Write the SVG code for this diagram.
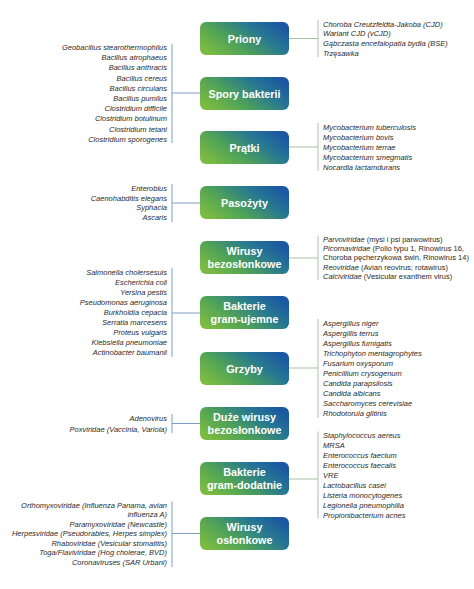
<svg xmlns="http://www.w3.org/2000/svg" width="474" height="589" viewBox="0 0 474 589">
<defs>
<linearGradient id="g" x1="0" y1="0.75" x2="1" y2="0.25">
<stop offset="0" stop-color="#7cbb41"/>
<stop offset="0.35" stop-color="#4fa257"/>
<stop offset="0.7" stop-color="#277892"/>
<stop offset="1" stop-color="#1b57a2"/>
</linearGradient>
<style>
.box{fill:url(#g)}
.lbl{font-family:"Liberation Sans",Arial,sans-serif;font-weight:bold;font-size:10.8px;fill:#fff;text-anchor:middle}
.r{font-family:"Liberation Sans",Arial,sans-serif;font-style:italic;font-size:7.5px;fill:#2a2a2a}
.l{font-family:"Liberation Sans",Arial,sans-serif;font-style:italic;font-size:7.5px;fill:#2a2a2a;text-anchor:end}
.n{font-style:normal}
.cr{stroke:#a9c2a4;stroke-width:1;fill:none}
.cl{stroke:#7e9dc2;stroke-width:1;fill:none}
</style>
</defs>
<rect width="474" height="589" fill="#fff"/>
<g id="connectors">
<path class="cr" d="M289 38.5H318M318 20V57"/>
<path class="cl" d="M200 93H172M172 44V143"/>
<path class="cr" d="M289 147H318M318 123V171"/>
<path class="cl" d="M200 203H172M172 184V222"/>
<path class="cr" d="M289 258H318M318 235.5V280"/>
<path class="cl" d="M200 313H172M172 268V357"/>
<path class="cr" d="M289 368H318M318 319V418"/>
<path class="cl" d="M200 423.5H172M172 414V433"/>
<path class="cr" d="M289 479H318M318 431.5V518.5"/>
<path class="cl" d="M200 533.5H172M172 501.5V567"/>
</g>
<g id="priony">
<rect class="box" x="200" y="22" width="89" height="33" rx="6"/>
<text class="lbl" x="244.5" y="42.5">Priony</text>
<text class="r" x="323" y="26.8">Choroba Creutzfeldta-Jakoba (CJD)</text>
<text class="r" x="323" y="36.4">Wariant CJD (vCJD)</text>
<text class="r" x="323" y="46">Gąbczasta encefalopatia bydła (BSE)</text>
<text class="r" x="323" y="55.6">Trzęsawka</text>
</g>
<g id="spory">
<rect class="box" x="200" y="77" width="89" height="33" rx="6"/>
<text class="lbl" x="244.5" y="97.5">Spory bakterii</text>
<text class="l" x="167" y="50">Geobacillus stearothermophilus</text>
<text class="l" x="167" y="60.2">Bacillus atrophaeus</text>
<text class="l" x="167" y="70.4">Bacillus anthracis</text>
<text class="l" x="167" y="80.6">Bacillus cereus</text>
<text class="l" x="167" y="90.8">Bacillus circulans</text>
<text class="l" x="167" y="101">Bacillus pumilus</text>
<text class="l" x="167" y="111.2">Clostridium difficile</text>
<text class="l" x="167" y="121.4">Clostridium botulinum</text>
<text class="l" x="167" y="131.6">Clostridium tetani</text>
<text class="l" x="167" y="141.8">Clostridium sporogenes</text>
</g>
<g id="pratki">
<rect class="box" x="200" y="131" width="89" height="33" rx="6"/>
<text class="lbl" x="244.5" y="151.5">Prątki</text>
<text class="r" x="323" y="130">Mycobacterium tuberculosis</text>
<text class="r" x="323" y="140">Mycobacterium bovis</text>
<text class="r" x="323" y="150">Mycobacterium terrae</text>
<text class="r" x="323" y="160">Mycobacterium smegmatis</text>
<text class="r" x="323" y="170">Nocardia lactamdurans</text>
</g>
<g id="pasozyty">
<rect class="box" x="200" y="186" width="89" height="33" rx="6"/>
<text class="lbl" x="244.5" y="206.5">Pasożyty</text>
<text class="l" x="167" y="191">Enterobius</text>
<text class="l" x="167" y="200.7">Caenohabditis elegans</text>
<text class="l" x="167" y="210.4">Syphacia</text>
<text class="l" x="167" y="220.1">Ascaris</text>
</g>
<g id="wirusy-bezoslonkowe">
<rect class="box" x="200" y="241" width="89" height="33" rx="6"/>
<text class="lbl" x="244.5" y="255">Wirusy</text>
<text class="lbl" x="244.5" y="267.5">bezosłonkowe</text>
<text class="r" x="323" y="241.7"><tspan>Parvoviridae</tspan><tspan class="n"> (mysi i psi parwowirus)</tspan></text>
<text class="r" x="323" y="251"><tspan>Picornaviridae</tspan><tspan class="n"> (Polio typu 1, Rinowirus 16,</tspan></text>
<text class="r n" x="323" y="260.2">Choroba pęcherzykowa świń, Rinowirus 14)</text>
<text class="r" x="323" y="269.5"><tspan>Reoviridae</tspan><tspan class="n"> (Avian reovirus; rotawirus)</tspan></text>
<text class="r" x="323" y="278.7"><tspan>Calciviridae</tspan><tspan class="n"> (Vesicular exanthem virus)</tspan></text>
</g>
<g id="gram-ujemne">
<rect class="box" x="200" y="296" width="89" height="33" rx="6"/>
<text class="lbl" x="244.5" y="310">Bakterie</text>
<text class="lbl" x="244.5" y="322.5">gram-ujemne</text>
<text class="l" x="167" y="275.4">Salmonella cholersesuis</text>
<text class="l" x="167" y="285.4">Escherichia coli</text>
<text class="l" x="167" y="295.4">Yersina pestis</text>
<text class="l" x="167" y="305.4">Pseudomonas aeruginosa</text>
<text class="l" x="167" y="315.4">Burkholdia cepacia</text>
<text class="l" x="167" y="325.4">Serratia marcesens</text>
<text class="l" x="167" y="335.4">Proteus vulgaris</text>
<text class="l" x="167" y="345.4">Klebsiella pneumoniae</text>
<text class="l" x="167" y="355.4">Actinobacter baumanii</text>
</g>
<g id="grzyby">
<rect class="box" x="200" y="352" width="89" height="33" rx="6"/>
<text class="lbl" x="244.5" y="372.5">Grzyby</text>
<text class="r" x="323" y="326">Aspergillus niger</text>
<text class="r" x="323" y="336">Aspergillis terrus</text>
<text class="r" x="323" y="346">Aspergillus fumigatis</text>
<text class="r" x="323" y="356">Trichophyton mentagrophytes</text>
<text class="r" x="323" y="366">Fusarium oxysporum</text>
<text class="r" x="323" y="376">Penicillium crysogenum</text>
<text class="r" x="323" y="386">Candida parapsilosis</text>
<text class="r" x="323" y="396">Candida albicans</text>
<text class="r" x="323" y="406">Saccharomyces cerevisiae</text>
<text class="r" x="323" y="416">Rhodotorula glitinis</text>
</g>
<g id="duze-wirusy">
<rect class="box" x="200" y="407" width="89" height="33" rx="6"/>
<text class="lbl" x="244.5" y="421">Duże wirusy</text>
<text class="lbl" x="244.5" y="433.5">bezosłonkowe</text>
<text class="l" x="167" y="420.7">Adenovirus</text>
<text class="l" x="167" y="431.7">Poxviridae (Vaccinia, Variola)</text>
</g>
<g id="gram-dodatnie">
<rect class="box" x="200" y="462" width="89" height="33" rx="6"/>
<text class="lbl" x="244.5" y="476">Bakterie</text>
<text class="lbl" x="244.5" y="488.5">gram-dodatnie</text>
<text class="r" x="323" y="437.7">Staphylococcus aereus</text>
<text class="r" x="323" y="447.7">MRSA</text>
<text class="r" x="323" y="457.7">Enterococcus faecium</text>
<text class="r" x="323" y="467.7">Enterococcus faecalis</text>
<text class="r" x="323" y="477.7">VRE</text>
<text class="r" x="323" y="487.7">Lactobacillus casei</text>
<text class="r" x="323" y="497.7">Listeria monocytogenes</text>
<text class="r" x="323" y="507.7">Legionella pneumophilia</text>
<text class="r" x="323" y="517.7">Propionibacterium acnes</text>
</g>
<g id="wirusy-oslonkowe">
<rect class="box" x="200" y="517" width="89" height="33" rx="6"/>
<text class="lbl" x="244.5" y="531">Wirusy</text>
<text class="lbl" x="244.5" y="543.5">osłonkowe</text>
<text class="l" x="167" y="507.7">Orthomyxoviridae (Influenza Panama, avian</text>
<text class="l" x="167" y="517.2">influenza A)</text>
<text class="l" x="167" y="526.7">Paramyxoviridae (Newcastle)</text>
<text class="l" x="167" y="536.2">Herpesviridae (Pseudorabies, Herpes simplex)</text>
<text class="l" x="167" y="545.7">Rhaboviridae (Vesicular stomatitis)</text>
<text class="l" x="167" y="555.2">Toga/Flaviviridae (Hog cholerae, BVD)</text>
<text class="l" x="167" y="564.7">Coronaviruses (SAR Urbani)</text>
</g>
</svg>
